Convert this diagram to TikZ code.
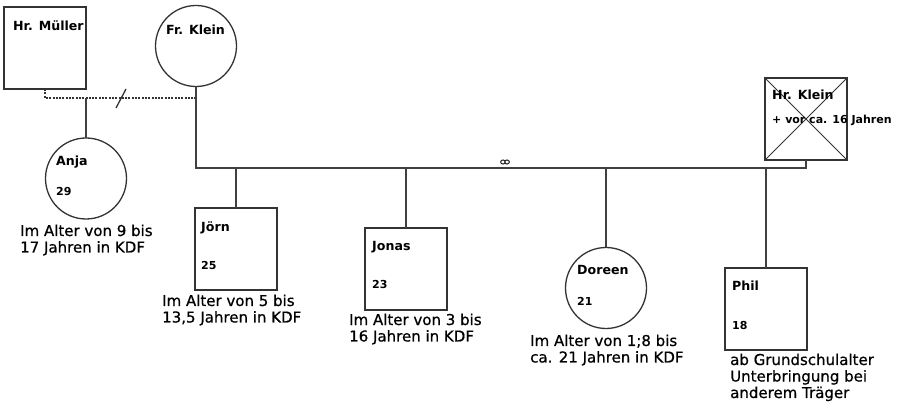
\documentclass[tikz,border=0pt]{standalone}
\usepackage{fontspec}
\setmainfont{DejaVu Sans}
\newfontfamily\notefont[FakeBold=0.7]{DejaVu Sans}
\begin{document}
\begin{tikzpicture}[x=1pt,y=-1pt,
  person/.style={draw=black!80, line width=1.3pt, inner sep=0pt, outer sep=0pt},
  male/.style={person, rectangle, minimum width=82pt, minimum height=82pt},
  female/.style={person, circle, minimum size=81pt},
  link/.style={draw=black!75, line width=1.5pt},
  dotline/.style={draw=black!80, line width=2.2pt, dash pattern=on 2pt off 1.3pt},
  pname/.style={anchor=base west, inner sep=0pt, font=\bfseries\fontsize{12.6}{15}\selectfont},
  page/.style={anchor=base west, inner sep=0pt, font=\bfseries\fontsize{11}{13}\selectfont},
  pnote/.style={anchor=base west, inner sep=0pt, align=left, font=\notefont\fontsize{15}{16.5}\selectfont}]
\useasboundingbox (0,0) rectangle (900,403);

% persons
\node[male]   (muller) at (45,48)    {};
\node[female] (fklein) at (196,46)   {};
\node[female] (anja)   at (86,178.5) {};
\node[male]   (hklein) at (806,119)  {};
\node[male]   (joern)  at (236,249)  {};
\node[male]   (jonas)  at (406,269)  {};
\node[female] (doreen) at (606,288)  {};
\node[male]   (phil)   at (766,309)  {};

% deceased: crossed out
\draw[draw=black!80, line width=1pt] (hklein.north west) -- (hklein.south east)
  (hklein.north east) -- (hklein.south west);

% helper levels
\coordinate (sep)   at (0,98);
\coordinate (mline) at (0,168);
\coordinate (s1) at (116,108);
\coordinate (s2) at (126,89);

% separated relationship
\draw[dotline] (muller.south) -- (muller.south |- sep) -- (fklein.south |- sep) -- (fklein.south);
\draw[draw=black!80, line width=1.3pt] (s1) -- (s2);
\draw[link] (anja.north |- sep) -- (anja.north);

% marriage line
\draw[link] (fklein.south) -- (fklein.south |- mline) -- (hklein.south |- mline) -- (hklein.south);
\coordinate (ring) at (505,162);
\draw[black!85, line width=1pt] ([xshift=-2pt]ring) ellipse [x radius=2.4pt, y radius=2pt]
  ([xshift=2pt]ring) ellipse [x radius=2.4pt, y radius=2pt];

% children
\draw[link] (joern.north |- mline) -- (joern.north);
\draw[link] (jonas.north |- mline) -- (jonas.north);
\draw[link] (doreen.north |- mline) -- (doreen.north);
\draw[link] (phil.north |- mline) -- (phil.north);

% names and ages
\node[pname] (tmuller) at (13,31)  {Hr. Müller};
\node[pname] (tfklein) at (166,35) {Fr. Klein};
\node[pname] (tanja)   at (56,166) {Anja};
\node[page]  (aanja)   at (56,196) {29};
\node[pname] (tjoern)  at (201,232) {Jörn};
\node[page]  (ajoern)  at (201,270) {25};
\node[pname] (tjonas)  at (372,251) {Jonas};
\node[page]  (ajonas)  at (372,289) {23};
\node[pname] (tdoreen) at (577,275) {Doreen};
\node[page]  (adoreen) at (577,306) {21};
\node[pname] (tphil)   at (732,291) {Phil};
\node[page]  (aphil)   at (732,330) {18};
\node[pname] (thklein) at (772,100) {Hr. Klein};
\node[page]  (dhklein) at (772,124) {+ vor ca. 16 Jahren};

% notes (anchored at the baseline of their last line)
\node[pnote] (nanja)   at (20,252.5)  {Im Alter von 9 bis\\17 Jahren in KDF};
\node[pnote] (njoern)  at (162,322.5) {Im Alter von 5 bis\\13,5 Jahren in KDF};
\node[pnote] (njonas)  at (349,341.5) {Im Alter von 3 bis\\16 Jahren in KDF};
\node[pnote] (ndoreen) at (530,362.5) {Im Alter von 1;8 bis\\ca. 21 Jahren in KDF};
\node[pnote] (nphil)   at (730,398)   {ab Grundschulalter\\Unterbringung bei\\anderem Träger};
\end{tikzpicture}
\end{document}
